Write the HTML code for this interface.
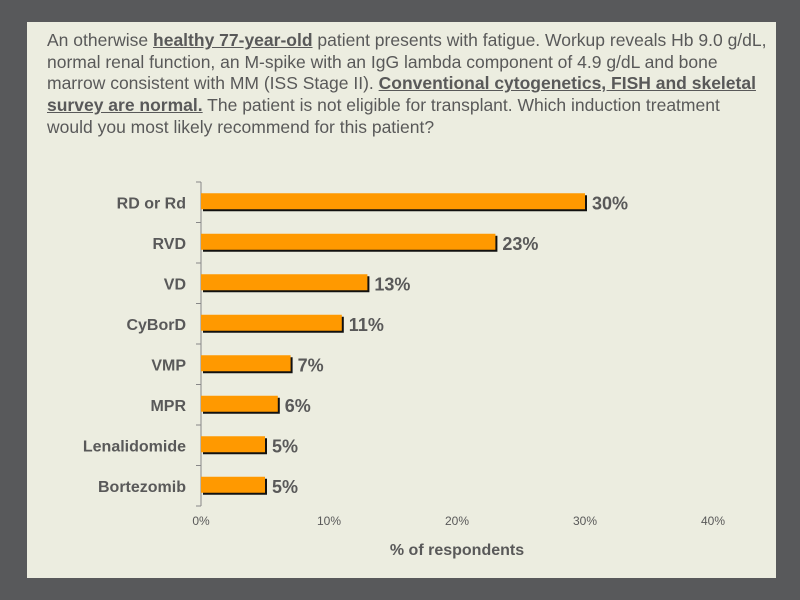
<!DOCTYPE html>
<html><head><meta charset="utf-8"><style>
body{margin:0;width:800px;height:600px;background:#58595b;position:relative;overflow:hidden;font-family:"Liberation Sans",Arial,sans-serif}
#panel{position:absolute;left:27px;top:22px;width:749px;height:556px;background:#ecede0}
#q{position:absolute;left:47px;top:30px;width:720px;font-size:17.5px;line-height:21.7px;color:#595959}
#q b{text-decoration:underline}
svg{position:absolute;left:0;top:0}
</style></head><body>
<div id="panel"></div>
<div id="q">An otherwise <b>healthy 77-year-old</b> patient presents with fatigue. Workup reveals Hb 9.0 g/dL, normal renal function, an M-spike with an IgG lambda component of 4.9 g/dL and bone marrow consistent with MM (ISS Stage II). <b>Conventional cytogenetics, FISH and skeletal survey are normal.</b> The patient is not eligible for transplant. Which induction treatment would you most likely recommend for this patient?</div>
<svg id="chart" width="800" height="600"></svg>
<script>
const categories=["RD or Rd","RVD","VD","CyBorD","VMP","MPR","Lenalidomide","Bortezomib"];
const values=[30,23,13,11,7,6,5,5];
const tickLabels=["0%","10%","20%","30%","40%"];
const tickValues=[0,10,20,30,40];
const svg=document.getElementById('chart');
const NS='http://www.w3.org/2000/svg';
const x0=201,x1=713,top0=182,bot=506;
const xs=v=>x0+(x1-x0)*v/40;
const band=(bot-top0)/categories.length;
function el(t,a,p){const e=document.createElementNS(NS,t);for(const k in a)e.setAttribute(k,a[k]);(p||svg).appendChild(e);return e;}
const axis=el('line',{x1:x0,y1:top0,x2:x0,y2:bot,stroke:'#888','stroke-width':1});


for(let i=0;i<=categories.length;i++){const y=top0+i*band;const t=el('line',{x1:x0-5,y1:y,x2:x0,y2:y,stroke:'#888'});

}
categories.forEach((c,i)=>{
const cy=top0+band*(i+0.5);const w=xs(values[i])-x0;
const sh=el('rect',{x:x0+2,y:cy-7,width:w,height:16,fill:'#111'});


const r=el('rect',{x:x0,y:cy-9,width:w,height:16,fill:'#ff9900'});


const l=el('text',{x:186,y:cy+6,'text-anchor':'end','font-size':16,'font-weight':'bold',fill:'#595959'});l.textContent=c;


const v=el('text',{x:x0+w+7,y:cy+7,'font-size':18,'font-weight':'bold',fill:'#595959'});v.textContent=values[i]+'%';


});
tickValues.forEach((t,i)=>{const tx=el('text',{x:xs(t),y:525,'text-anchor':'middle','font-size':12,fill:'#595959'});tx.textContent=tickLabels[i];

});
const xt=el('text',{x:457,y:555,'text-anchor':'middle','font-size':16,'font-weight':'bold',fill:'#595959'});xt.textContent='% of respondents';


</script>
</body></html>
